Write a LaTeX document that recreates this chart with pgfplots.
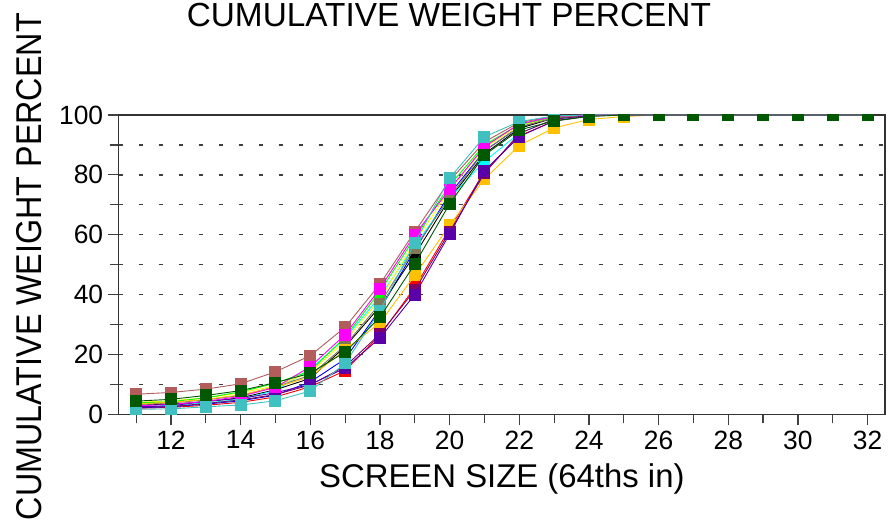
\documentclass[border=0pt]{standalone}
\usepackage{pgfplots}
\pgfplotsset{compat=1.18}
\usepackage{fontspec}
\setmainfont{Liberation Sans}
\definecolor{rosy}{RGB}{178,92,92}
\definecolor{teal2}{RGB}{64,192,192}
\definecolor{dkgreen}{RGB}{0,88,0}
\definecolor{purp}{RGB}{90,0,168}
\definecolor{orng}{RGB}{255,192,0}
\definecolor{dkmag}{RGB}{128,0,100}
\definecolor{olive2}{RGB}{128,120,90}
\definecolor{mag}{RGB}{255,0,255}
\definecolor{cyn}{RGB}{0,255,255}
\definecolor{yel}{RGB}{255,255,0}
\definecolor{grn}{RGB}{0,255,0}
\definecolor{rd}{RGB}{255,0,0}
\definecolor{bl}{RGB}{0,0,255}
\begin{document}
\begin{tikzpicture}
\useasboundingbox (0,0) rectangle (889bp,529bp);
\begin{axis}[
  at={(118.7bp,114.7bp)}, anchor=south west,
  scale only axis, width=766.3bp, height=299.3bp,
  xmin=10.5, xmax=32.5, ymin=0, ymax=100,
  xtick={12,14,...,32}, minor xtick={11,13,...,31},
  ytick={0,20,...,100}, minor ytick={10,30,...,90},
  tick pos=left, tick align=outside,
  major tick length=11bp, minor tick length=9bp,
  every tick/.style={black!75, line width=1.2bp},
  axis line style={black!80, line width=1.4bp},
  ymajorgrids, yminorgrids,
  major grid style={black!75, line width=1.4bp, dash pattern=on 4bp off 16bp},
  minor grid style={black!75, line width=1.4bp, dash pattern=on 4bp off 16bp},
  /pgf/number format/assume math mode=true,
  tick label style={font=\fontsize{26.5}{31}\selectfont},
  xticklabel style={yshift=-2bp},
  yticklabel style={xshift=-1bp},
  title={CUMULATIVE WEIGHT PERCENT},
  title style={font=\fontsize{33.5}{38}\selectfont, at={(axis description cs:0.5,1)}, anchor=base, yshift=83bp, xshift=-53bp},
  xlabel={SCREEN SIZE (64ths in)},
  xlabel style={font=\fontsize{33}{38}\selectfont, at={(axis description cs:0.5,0)}, anchor=base, yshift=-72.7bp},
  ylabel={\scalebox{0.9}[1]{CUMULATIVE WEIGHT PERCENT}},
  ylabel style={font=\fontsize{36}{40}\selectfont, at={(axis description cs:0,0.5)}, anchor=center, rotate=0, yshift=90bp, xshift=-2bp},
  every axis plot/.append style={line width=0.9bp, mark=square*, mark size=5.5bp},
  clip marker paths=true,
]
% red
\addplot[color=rd, mark options={fill=rd}] coordinates {(11,2.0)(12,2.3)(13,3.0)(14,4.0)(15,5.8)(16,9.2)(17,14.6)(18,26.4)(19,42.4)(20,62.0)(21,81.0)(22,93.0)(23,98.0)(24,99.8)(25,100)(26,100)(27,100)(28,100)(29,100)(30,100)(31,100)(32,100)};
% blue
\addplot[color=bl, mark options={fill=bl}] coordinates {(11,2.2)(12,2.5)(13,3.4)(14,4.5)(15,6.4)(16,10.8)(17,18.5)(18,35.0)(19,54.9)(20,73.6)(21,88.0)(22,96.0)(23,99.0)(24,100)(25,100)(26,100)(27,100)(28,100)(29,100)(30,100)(31,100)(32,100)};
% black
\addplot[color=black, mark options={fill=black}] coordinates {(11,3.0)(12,3.4)(13,4.2)(14,5.5)(15,8.2)(16,12.0)(17,22.6)(18,36.0)(19,53.3)(20,72.0)(21,87.0)(22,95.5)(23,99.0)(24,100)(25,100)(26,100)(27,100)(28,100)(29,100)(30,100)(31,100)(32,100)};
% cyan
\addplot[color=cyn, mark options={fill=cyn}] coordinates {(11,2.5)(12,3.0)(13,3.8)(14,5.0)(15,8.0)(16,15.0)(17,25.4)(18,39.3)(19,56.5)(20,72.2)(21,84.5)(22,93.9)(23,98.5)(24,99.8)(25,100)(26,100)(27,100)(28,100)(29,100)(30,100)(31,100)(32,100)};
% yellow
\addplot[color=yel, mark options={fill=yel}] coordinates {(11,4.0)(12,4.5)(13,5.5)(14,7.2)(15,9.5)(16,14.0)(17,24.5)(18,38.5)(19,57.5)(20,75.0)(21,89.0)(22,96.5)(23,99.2)(24,100)(25,100)(26,100)(27,100)(28,100)(29,100)(30,100)(31,100)(32,100)};
% green
\addplot[color=grn, mark options={fill=grn}] coordinates {(11,3.8)(12,4.2)(13,5.5)(14,7.5)(15,10.4)(16,14.5)(17,25.8)(18,41.0)(19,59.0)(20,76.5)(21,90.0)(22,96.8)(23,99.3)(24,100)(25,100)(26,100)(27,100)(28,100)(29,100)(30,100)(31,100)(32,100)};
% olive
\addplot[color=olive2, mark options={fill=olive2}] coordinates {(11,3.3)(12,3.8)(13,4.8)(14,6.3)(15,9.2)(16,13.0)(17,23.0)(18,37.0)(19,55.5)(20,72.5)(21,88.0)(22,96.0)(23,99.0)(24,100)(25,100)(26,100)(27,100)(28,100)(29,100)(30,100)(31,100)(32,100)};
% orange
\addplot[color=orng, mark options={fill=orng}] coordinates {(11,3.5)(12,4.0)(13,5.0)(14,6.5)(15,9.0)(16,12.5)(17,21.5)(18,30.6)(19,46.4)(20,63.2)(21,78.6)(22,89.8)(23,95.7)(24,98.5)(25,99.5)(26,100)(27,100)(28,100)(29,100)(30,100)(31,100)(32,100)};
% dark magenta
\addplot[color=dkmag, mark options={fill=dkmag}] coordinates {(11,2.3)(12,2.6)(13,3.6)(14,4.8)(15,6.6)(16,9.8)(17,16.0)(18,26.8)(19,41.5)(20,61.0)(21,80.5)(22,93.8)(23,98.6)(24,99.8)(25,100)(26,100)(27,100)(28,100)(29,100)(30,100)(31,100)(32,100)};
% purple
\addplot[color=purp, mark options={fill=purp}] coordinates {(11,2.5)(12,2.8)(13,4.4)(14,5.3)(15,7.2)(16,10.0)(17,15.4)(18,25.5)(19,40.0)(20,60.2)(21,81.4)(22,92.8)(23,98.0)(24,99.7)(25,100)(26,100)(27,100)(28,100)(29,100)(30,100)(31,100)(32,100)};
% rosy
\addplot[color=rosy, mark options={fill=rosy}] coordinates {(11,6.7)(12,7.3)(13,8.4)(14,10.2)(15,14.2)(16,19.6)(17,29.1)(18,43.5)(19,61.0)(20,78.0)(21,91.0)(22,97.5)(23,99.5)(24,100)(25,100)(26,100)(27,100)(28,100)(29,100)(30,100)(31,100)(32,100)};
% magenta
\addplot[color=mag, mark options={fill=mag}] coordinates {(11,2.8)(12,3.3)(13,4.3)(14,6.0)(15,9.0)(16,15.9)(17,26.6)(18,42.0)(19,60.0)(20,75.2)(21,89.4)(22,97.0)(23,99.5)(24,100)(25,100)(26,100)(27,100)(28,100)(29,100)(30,100)(31,100)(32,100)};
% teal
\addplot[color=teal2, mark options={fill=teal2}] coordinates {(11,1.7)(12,1.8)(13,2.5)(14,3.1)(15,4.5)(16,7.8)(17,17.0)(18,34.6)(19,57.3)(20,78.9)(21,92.7)(22,97.8)(23,99.7)(24,100)(25,100)(26,100)(27,100)(28,100)(29,100)(30,100)(31,100)(32,100)};
% dark green
\addplot[color=dkgreen, mark options={fill=dkgreen}] coordinates {(11,4.4)(12,5.0)(13,6.3)(14,7.9)(15,10.6)(16,13.7)(17,20.8)(18,32.4)(19,50.2)(20,70.3)(21,86.6)(22,95.0)(23,98.0)(24,99.5)(25,100)(26,100)(27,100)(28,100)(29,100)(30,100)(31,100)(32,100)};
\end{axis}
\end{tikzpicture}
\end{document}
